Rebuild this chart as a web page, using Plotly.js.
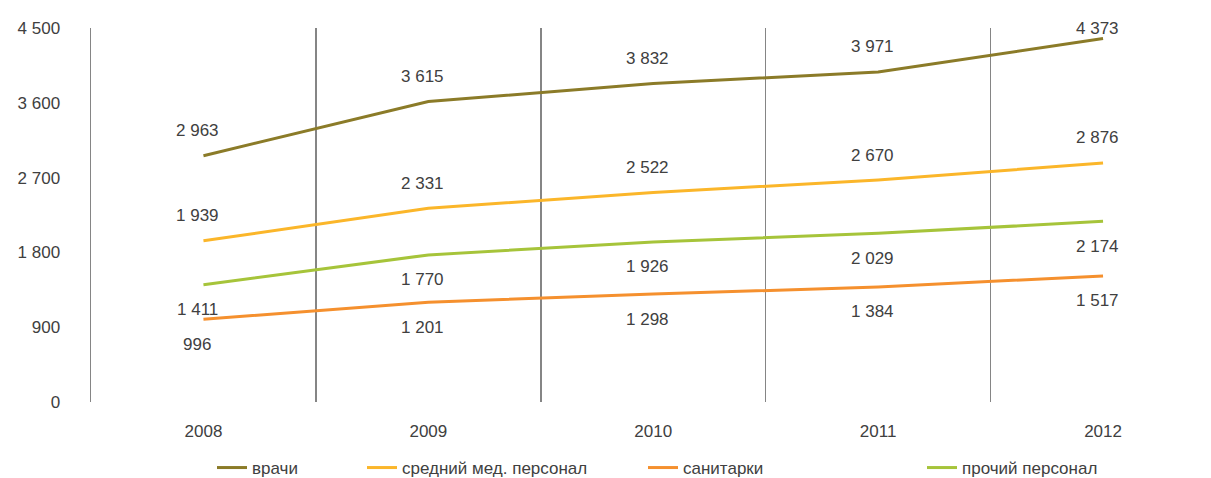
<!DOCTYPE html>
<html>
<head>
<meta charset="utf-8">
<script src="https://cdn.plot.ly/plotly-3.0.1.min.js"></script>
<style>
  html, body { margin: 0; padding: 0; background: #fff; }
  #chart { width: 1211px; height: 478px; }
</style>
</head>
<body>
<div id="chart"></div>
<script>
// ---- data ----
const years = ['2008', '2009', '2010', '2011', '2012'];
const seriesNames = ['врачи', 'средний мед. персонал', 'санитарки', 'прочий персонал'];
const vrachi = [2963, 3615, 3832, 3971, 4373];
const srednij = [1939, 2331, 2522, 2670, 2876];
const sanitarki = [996, 1201, 1298, 1384, 1517];
const prochij = [1411, 1770, 1926, 2029, 2174];
const yTicks = [0, 900, 1800, 2700, 3600, 4500];

// ---- style ----
const colors = ['#8B7B28', '#FBB62A', '#F5902E', '#A6C43A'];
const labelSide = [1, 1, -1, -1]; // +1 above, -1 below
const legendX = [217, 367, 648, 927]; // px, left of legend line
const values = [vrachi, srednij, sanitarki, prochij];

const FONT = 'Liberation Sans, Arial, sans-serif';
const TXT = '#404040';
const FS = 17;
const W = 1211, H = 478;
const marginL = 91, marginT = 28, plotW = 1120, plotH = 374;
const yMax = 4500;

function fmt(v) {
  return String(v).replace(/\B(?=(\d{3})+(?!\d))/g, ' ');
}

const legendKeys = ['legend', 'legend2', 'legend3', 'legend4'];
const traces = values.map((vals, i) => ({
  type: 'scatter',
  mode: 'lines',
  x: years,
  y: vals,
  name: seriesNames[i],
  line: { color: colors[i], width: 3 },
  legend: legendKeys[i],
  hoverinfo: 'skip'
}));

const annotations = [];
values.forEach((vals, i) => {
  vals.forEach((v, j) => {
    let shift = 25;
    if (labelSide[i] > 0) {
      const distTop = (yMax - v) / yMax * plotH;
      shift = Math.min(25, distTop);
    }
    annotations.push({
      x: j, y: v, xref: 'x', yref: 'y',   // x = category index
      text: fmt(v), showarrow: false,
      xshift: -6, yshift: labelSide[i] * shift,
      font: { family: FONT, size: FS, color: TXT }
    });
  });
});

const layout = {
  width: W, height: H,
  margin: { l: marginL, r: 0, t: marginT, b: H - marginT - plotH, autoexpand: false },
  paper_bgcolor: '#fff', plot_bgcolor: '#fff',
  separators: ', ',
  font: { family: FONT, size: FS, color: TXT },
  showlegend: true,
  xaxis: {
    type: 'category',
    categoryorder: 'array', categoryarray: years,
    range: [-0.5, 4.48],
    autorange: false,
    tickson: 'boundaries',
    showgrid: true, gridcolor: '#858585', gridwidth: 1.5,
    showline: false, zeroline: false,
    ticks: '',
    ticklabelstandoff: 17,
    tickfont: { family: FONT, size: FS, color: TXT },
    fixedrange: true
  },
  yaxis: {
    range: [0, yMax],
    autorange: false,
    tickvals: yTicks,
    ticktext: yTicks.map(fmt),
    showgrid: false, zeroline: false,
    showline: true, linecolor: '#858585', linewidth: 1.5,
    ticks: '',
    ticklabelstandoff: 26,
    tickfont: { family: FONT, size: FS, color: TXT },
    fixedrange: true
  },
  annotations: annotations
};

legendKeys.forEach((k, i) => {
  layout[k] = {
    xref: 'container', yref: 'container',
    x: (legendX[i] - 5) / W,
    xanchor: 'left',
    y: 1 - 468 / H,
    yanchor: 'middle',
    orientation: 'h',
    bgcolor: 'rgba(0,0,0,0)',
    borderwidth: 0,
    font: { family: FONT, size: FS, color: TXT }
  };
});

Plotly.newPlot('chart', traces, layout, { staticPlot: true, displayModeBar: false });
</script>
</body>
</html>
